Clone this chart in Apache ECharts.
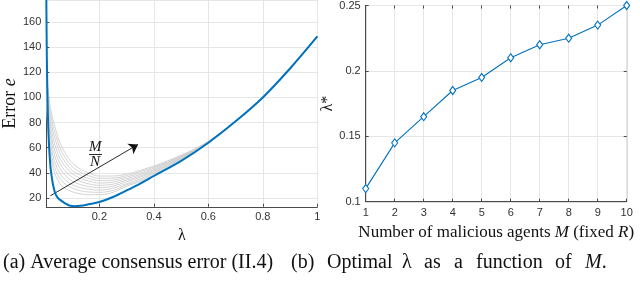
<!DOCTYPE html>
<html>
<head>
<meta charset="utf-8">
<script src="https://cdn.jsdelivr.net/npm/echarts@6/dist/echarts.min.js"></script>
<style>
html,body{margin:0;padding:0;background:#fff;}
#c{width:640px;height:296px;}
</style>
</head>
<body>
<div id="c"></div>
<script>
// ---- Left panel: average consensus error vs lambda ----
const lambdaBlue = [0.005, 0.006, 0.0073, 0.0095, 0.012, 0.0156, 0.02, 0.023, 0.03, 0.0375, 0.046, 0.056, 0.074, 0.09, 0.11, 0.13, 0.16, 0.2, 0.25, 0.3, 0.35, 0.4, 0.5, 0.6, 0.7, 0.8, 0.9, 1.0];
const errBlue = [188, 158, 130, 100, 79, 60, 46, 40, 30.5, 24, 20.5, 18.5, 15.8, 14.0, 13.5, 13.8, 15, 16.8, 20.8, 26, 31.5, 37.5, 49.5, 64, 81, 100, 123, 148.5];

const lambdaGray = [0.005, 0.0075, 0.01, 0.015, 0.02, 0.03, 0.04, 0.055, 0.075, 0.1, 0.13, 0.16, 0.2, 0.25, 0.3, 0.35, 0.4, 0.5, 0.6, 0.7, 0.8, 0.9, 1.0];
const grayM2  = [100, 88, 78, 64, 55, 44, 37.5, 31.5, 27.5, 25, 23.3, 22.6, 22.6, 24.5, 29.5, 33, 38.5, 51, 64.5, 81, 100, 123, 148.5];
const grayM3  = [103, 92, 82, 68.5, 59.5, 48.5, 42, 35.5, 31, 28, 25.8, 24.8, 24.5, 26, 30.5, 34, 39.5, 51.5, 64.5, 81, 100, 123, 148.5];
const grayM4  = [106.5, 95, 86, 73, 64, 53.5, 46.5, 39.5, 34.5, 30.5, 28.2, 27, 26.3, 27.8, 31.5, 35.2, 40.3, 51.8, 64.6, 81, 100, 123, 148.5];
const grayM5  = [110, 99, 90, 77.5, 69, 58, 51, 43.5, 38, 33.5, 30.7, 29.1, 28.2, 29.4, 33, 36.4, 41.2, 52.1, 64.7, 81, 100, 123, 148.5];
const grayM6  = [113, 102.5, 94, 82, 73.5, 63, 55.5, 47.5, 41.5, 36.5, 33.2, 31.3, 30, 31, 34.2, 37.5, 42, 52.5, 64.8, 81, 100, 123, 148.5];
const grayM7  = [116, 106, 98, 86.5, 78, 67.5, 60, 51.5, 45, 39.5, 35.6, 33.5, 31.9, 32.6, 35.4, 38.6, 42.9, 52.9, 64.8, 81, 100, 123, 148.5];
const grayM8  = [119.5, 110, 102, 91, 83, 72.5, 65, 56, 48.5, 42, 38, 35.6, 33.8, 34.3, 36.6, 39.8, 43.8, 53.3, 64.9, 81, 100, 123, 148.5];
const grayM9  = [123, 113.5, 106, 95.5, 87.5, 77, 69.5, 60, 52, 45, 40.5, 37.8, 35.7, 35.9, 37.8, 41, 44.6, 53.6, 65, 81, 100, 123, 148.5];
const grayM10 = [126, 117, 110, 100, 92, 82, 74, 64, 55.5, 48, 43, 40, 37.5, 37.5, 39, 42, 45.5, 54, 65, 81, 100, 123, 148.5];
const grayCurves = [grayM2, grayM3, grayM4, grayM5, grayM6, grayM7, grayM8, grayM9, grayM10];

// arrow annotation endpoints (lambda, error)
const arrowStart = [0.0202, 21.8];
const arrowEnd = [0.342, 62.6];

// ---- Right panel: optimal lambda vs M ----
const mValues = [1, 2, 3, 4, 5, 6, 7, 8, 9, 10];
const lambdaStar = [0.11, 0.145, 0.165, 0.185, 0.195, 0.21, 0.22, 0.225, 0.235, 0.25];

// caption (b) words, set justified as in the reference
const captionB = ['(b)', 'Optimal', 'λ', 'as', 'a', 'function', 'of', 'M.'];
const captionBx = [291, 327, 402, 424, 454, 476, 555, 585];

const BLUE = '#0072BD';
const AX = '#4a4a4a';
const GRID = '#e6e6e6';
const SANS = '"Liberation Sans", Arial, sans-serif';
const SERIF = '"Liberation Serif", "DejaVu Serif", serif';

const zip = (xs, ys) => xs.map((x, i) => [x, ys[i]]);

const chart = echarts.init(document.getElementById('c'), null, {renderer: 'canvas'});

const labelStyle = {color: '#333', fontFamily: SANS, fontSize: 11};

const series = [];
grayCurves.forEach((g) => {
  series.push({
    type: 'line', xAxisIndex: 0, yAxisIndex: 0,
    data: zip(lambdaGray, g), showSymbol: false, symbol: 'none',
    smooth: 0.35, clip: true,
    lineStyle: {color: '#cfcfcf', width: 0.9}, z: 2, silent: true
  });
});
series.push({
  type: 'line', xAxisIndex: 0, yAxisIndex: 0,
  data: zip(lambdaBlue, errBlue), showSymbol: false, symbol: 'none',
  smooth: 0.35, clip: true,
  lineStyle: {color: BLUE, width: 2}, z: 5
});
series.push({
  type: 'line', xAxisIndex: 0, yAxisIndex: 0, data: [], symbol: 'none', z: 6,
  markLine: {
    silent: true, symbol: ['none', 'arrow'], symbolSize: 9,
    lineStyle: {color: '#111', width: 0.9, type: 'solid'},
    label: {show: false},
    data: [[{coord: arrowStart}, {coord: arrowEnd}]]
  }
});
series.push({
  type: 'line', xAxisIndex: 1, yAxisIndex: 1,
  data: zip(mValues, lambdaStar),
  symbol: 'diamond', symbolSize: [6, 8], showSymbol: true,
  lineStyle: {color: BLUE, width: 1.1},
  itemStyle: {color: '#fff', borderColor: BLUE, borderWidth: 1.1},
  z: 5
});

const txt = (x, y, text, size, italic) => ({
  type: 'text', left: x, top: y, z: 100,
  style: {text: text, fontFamily: SERIF, fontSize: size, fontStyle: italic ? 'italic' : 'normal', fill: '#111'}
});

const graphics = [
  txt(89, 139.5, 'M', 15, true),
  {type: 'line', z: 100, shape: {x1: 89, y1: 154.5, x2: 102, y2: 154.5}, style: {stroke: '#111', lineWidth: 0.9}},
  txt(90, 154.5, 'N', 15, true),
  txt(3, 253, '(a) Average consensus error (II.4)', 20, false)
];
captionB.forEach((w, i) => {
  if (w === 'M.') {
    graphics.push({type: 'text', left: captionBx[i], top: 253, style: {
      text: '{i|M}.', fontFamily: SERIF, fontSize: 20, fill: '#111',
      rich: {i: {fontStyle: 'italic', fontFamily: SERIF, fontSize: 20, fill: '#111'}}}});
  } else {
    graphics.push(txt(captionBx[i], 253, w, 20, false));
  }
});

chart.setOption({
  animation: false,
  backgroundColor: '#fff',
  grid: [
    {left: 43.1, top: 0, width: 274.2, height: 206.8, containLabel: false},
    {left: 365.7, top: 4.7, width: 261, height: 197, containLabel: false,
     show: true, borderColor: AX, borderWidth: 1}
  ],
  xAxis: [
    {type: 'value', gridIndex: 0, min: 0.005, max: 1, minInterval: 0.2, maxInterval: 0.2,
     axisLine: {show: true, lineStyle: {color: AX, width: 1}},
     axisTick: {show: true, inside: true, length: 3, lineStyle: {color: AX}},
     axisLabel: Object.assign({margin: 5, showMinLabel: false}, labelStyle),
     splitLine: {show: true, lineStyle: {color: GRID, width: 1}},
     name: 'λ', nameLocation: 'middle', nameGap: 19,
     nameTextStyle: {fontFamily: SERIF, fontSize: 16, color: '#111'}},
    {type: 'value', gridIndex: 1, min: 1, max: 10, interval: 1,
     axisLine: {show: true, lineStyle: {color: AX, width: 1}},
     axisTick: {show: true, inside: true, length: 3, lineStyle: {color: AX}},
     axisLabel: Object.assign({margin: 6}, labelStyle),
     splitLine: {show: true, lineStyle: {color: GRID, width: 1}},
     name: 'Number of malicious agents {i|M} (fixed {i|R})', nameLocation: 'middle', nameGap: 18,
     nameTextStyle: {fontFamily: SERIF, fontSize: 17, color: '#111',
       rich: {i: {fontFamily: SERIF, fontSize: 17, fontStyle: 'italic', color: '#111'}}}},
    {type: 'value', gridIndex: 1, position: 'top', min: 1, max: 10, interval: 1,
     axisLine: {show: false}, axisLabel: {show: false}, splitLine: {show: false},
     axisTick: {show: true, inside: true, length: 3, lineStyle: {color: AX}}}
  ],
  yAxis: [
    {type: 'value', gridIndex: 0, min: 13, max: 177.5, minInterval: 20, maxInterval: 20,
     axisLine: {show: true, lineStyle: {color: AX, width: 1}},
     axisTick: {show: true, inside: true, length: 3, lineStyle: {color: AX}},
     axisLabel: Object.assign({margin: 5, showMinLabel: false, showMaxLabel: false}, labelStyle),
     splitLine: {show: true, lineStyle: {color: GRID, width: 1}},
     name: 'Error {i|e}', nameLocation: 'middle', nameGap: 24, nameRotate: 90,
     nameTextStyle: {fontFamily: SERIF, fontSize: 18, color: '#111',
       rich: {i: {fontFamily: SERIF, fontSize: 18, fontStyle: 'italic', color: '#111'}}}},
    {type: 'value', gridIndex: 1, min: 0.1, max: 0.25, interval: 0.05,
     axisLine: {show: true, lineStyle: {color: AX, width: 1}},
     axisTick: {show: true, inside: true, length: 3, lineStyle: {color: AX}},
     axisLabel: Object.assign({margin: 5}, labelStyle),
     splitLine: {show: true, lineStyle: {color: GRID, width: 1}},
     name: 'λ*', nameLocation: 'middle', nameGap: 30, nameRotate: 90,
     nameTextStyle: {fontFamily: SERIF, fontSize: 16, color: '#111'}},
    {type: 'value', gridIndex: 1, position: 'right', min: 0.1, max: 0.25, interval: 0.05,
     axisLine: {show: false}, axisLabel: {show: false}, splitLine: {show: false},
     axisTick: {show: true, inside: true, length: 3, lineStyle: {color: AX}}}
  ],
  graphic: graphics,
  series: series
});
</script>
</body>
</html>
